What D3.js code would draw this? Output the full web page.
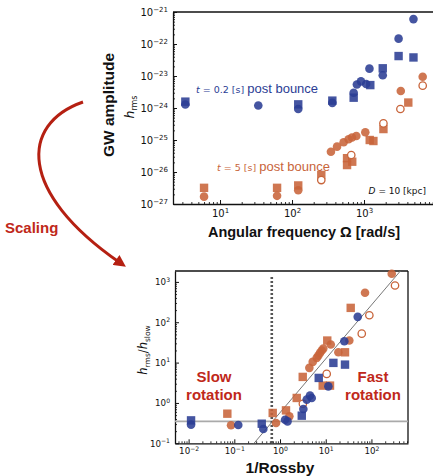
<!DOCTYPE html>
<html><head><meta charset="utf-8">
<script src="https://cdn.jsdelivr.net/npm/d3@7"></script>
<style>body{margin:0;background:#fff} svg{display:block}</style>
</head><body><svg id="c" width="433" height="476"></svg>
<script>
// ---------- Top panel data: angular frequency [rad/s] vs h_rms ----------
const topBlueCircles = [[3.3,1.28e-24],[34,1.2e-24],[122,9.3e-25],[363,1.45e-24],[718,3.0e-24],[796,5.4e-24],[907,6.8e-24],[1071,5.6e-24],[1189,1.7e-23],[1820,1.05e-23],[3020,1.47e-22],[4860,6e-22]];
const topBlueSquares = [[3.3,1.58e-24],[122,1.3e-24],[363,1.7e-24],[718,2.1e-24],[1222,5.2e-24],[1820,1.74e-23],[3020,4.2e-23],[4860,3.8e-23]];
const topOrangeCircles = [[6.0,1.7e-27],[62,1.8e-27],[122,2.7e-27],[347,4.3e-26],[422,6.2e-26],[521,8.5e-26],[611,1.05e-25],[681,1.2e-25],[782,1.33e-25],[1042,1.74e-25],[3240,3.4e-24],[6530,9.5e-24]];
const topOrangeSquares = [[6.0,3.2e-27],[62,3.2e-27],[122,3.8e-27],[255,8.1e-27],[581,2.7e-26],[581,1.65e-26],[686,2.1e-26],[1200,1e-25],[1350,9.3e-26],[1860,2.2e-25],[4120,1.48e-24]];
const topOrangeOpen = [[255,5.6e-27],[665,3.4e-26],[1860,3.3e-25],[3200,9.3e-25],[6530,5e-24]];
const topXTicks = [10,100,1000];
const topYTicks = [1e-27,1e-26,1e-25,1e-24,1e-23,1e-22,1e-21];

// ---------- Bottom panel data: 1/Rossby vs h_rms/h_slow ----------
const botBlueCircles = [[50.1,136],[25.5,33.8],[11.4,2.58],[4.53,1.52],[4.94,1.33],[3.84,1.21],[3.24,0.71],[1.29,0.385],[1.46,0.349],[0.431,0.226],[0.122,0.284],[0.0113,0.29]];
const botBlueSquares = [[14.7,9.84],[26.4,8.91],[7.03,4.17],[2.99,0.484],[0.398,0.306],[0.0113,0.37]];
const botOrangeCircles = [[278,1585],[72.4,537],[32.8,35.2],[18.9,18.0],[12.9,28.0],[8.85,22.2],[8.17,19.9],[7.5,17.4],[6.89,14.9],[6.35,13.1],[5.19,10.4],[4.38,7.4],[1.6,0.465],[0.817,0.319],[0.0847,0.279]];
const botOrangeSquares = [[35.2,227],[10.8,35.2],[26.4,18.0],[3.14,4.42],[8.59,2.69],[12.4,2.69],[2.32,1.33],[1.35,0.655],[0.692,0.565],[0.0703,0.542]];
const botOrangeOpen = [[328,815],[90,149],[61.4,52.1],[10.5,5.25],[3.16,0.955]];
const botXTicks = [0.01,0.1,1,10,100];
const botYTicks = [0.1,1,10,100,1000];
const slowLevel = 0.35;          // horizontal reference
const rossbyCrit = 0.66;         // dotted vertical
const fitSlope = 4/3, fitLogIntercept = -0.24;  // diagonal scaling line

const BLUE = "#2b3d94", ORANGE = "#c8643a", RED = "#c0281a";
const svg = d3.select("#c");
const tickFont = "DejaVu Sans", labFont = "Liberation Sans";

function minorTicks(dom){
  const lo = Math.floor(Math.log10(dom[0])), hi = Math.ceil(Math.log10(dom[1]));
  const out = [];
  for(let e=lo;e<=hi;e++) for(let m=2;m<=9;m++){const v=m*10**e; if(v>=dom[0]&&v<=dom[1]) out.push(v);}
  return out;
}
function supLabel(sel, d, fs){
  const e = Math.round(Math.log10(d));
  sel.text(null);
  sel.append("tspan").text("10");
  sel.append("tspan").attr("dy", -fs*0.42).attr("font-size", fs*0.7).text(e<0 ? "\u2212"+(-e) : String(e));
}

function drawPanel(cfg){
  const g = svg.append("g");
  const x = cfg.x, y = cfg.y;
  const [x0,x1] = x.range(), [y0,y1] = y.range();
  // minor ticks (inward)
  g.append("g").attr("transform",`translate(0,${y0})`)
    .call(d3.axisBottom(x).tickValues(minorTicks(x.domain())).tickSizeInner(-2).tickSizeOuter(0).tickFormat(""))
    .call(s=>s.select(".domain").remove()).selectAll("line").attr("stroke","#000").attr("stroke-width",0.8);
  g.append("g").attr("transform",`translate(${x0},0)`)
    .call(d3.axisLeft(y).tickValues(minorTicks(y.domain())).tickSizeInner(-2).tickSizeOuter(0).tickFormat(""))
    .call(s=>s.select(".domain").remove()).selectAll("line").attr("stroke","#000").attr("stroke-width",0.8);
  // major ticks
  const xa = g.append("g").attr("transform",`translate(0,${y0})`)
    .call(d3.axisBottom(x).tickValues(cfg.xTicks).tickSizeInner(-4).tickSizeOuter(0).tickPadding(cfg.xPad));
  xa.selectAll(".tick text").attr("font-family",tickFont).attr("font-size",cfg.xfs).attr("fill","#111")
    .each(function(d){supLabel(d3.select(this),d,cfg.xfs);});
  const ya = g.append("g").attr("transform",`translate(${x0},0)`)
    .call(d3.axisLeft(y).tickValues(cfg.yTicks).tickSizeInner(-4).tickSizeOuter(0).tickPadding(cfg.yPad));
  ya.selectAll(".tick text").attr("font-family",tickFont).attr("font-size",cfg.yfs).attr("fill","#111")
    .each(function(d){supLabel(d3.select(this),d,cfg.yfs);});
  [xa,ya].forEach(a=>{a.select(".domain").attr("stroke","#111").attr("stroke-width",1.3); a.selectAll(".tick line").attr("stroke","#111");});
  // top spine (and right if visible)
  g.append("line").attr("x1",x0).attr("x2",x1).attr("y1",y1).attr("y2",y1).attr("stroke","#111").attr("stroke-width",1.3);
  if(cfg.rightSpine) g.append("line").attr("x1",x1).attr("x2",x1).attr("y1",y1).attr("y2",y0).attr("stroke","#111").attr("stroke-width",1.3);
  return g;
}
function drawPoints(g, x, y, data, shape, color){
  const s = 8.4, r = 4.3;
  if(shape==="square"){
    g.selectAll(null).data(data).join("rect")
      .attr("x",d=>x(d[0])-s/2).attr("y",d=>y(d[1])-s/2).attr("width",s).attr("height",s)
      .attr("fill",color).attr("fill-opacity",0.88);
  } else if(shape==="circle"){
    g.selectAll(null).data(data).join("circle")
      .attr("cx",d=>x(d[0])).attr("cy",d=>y(d[1])).attr("r",r)
      .attr("fill",color).attr("fill-opacity",0.88);
  } else {
    g.selectAll(null).data(data).join("circle")
      .attr("cx",d=>x(d[0])).attr("cy",d=>y(d[1])).attr("r",3.7)
      .attr("fill","#fff").attr("stroke",color).attr("stroke-width",1.3);
  }
}

// ---------------- Top panel ----------------
const xT = d3.scaleLog().domain([10**0.347, 10**3.958]).range([173,433]);
const yT = d3.scaleLog().domain([1e-27,1e-21]).range([204,12]);
const gT = drawPanel({x:xT,y:yT,xTicks:topXTicks,yTicks:topYTicks,xfs:10,yfs:10,xPad:6,yPad:5,rightSpine:false});
drawPoints(gT,xT,yT,topOrangeSquares,"square",ORANGE);
drawPoints(gT,xT,yT,topOrangeCircles,"circle",ORANGE);
drawPoints(gT,xT,yT,topOrangeOpen,"open",ORANGE);
drawPoints(gT,xT,yT,topBlueSquares,"square",BLUE);
drawPoints(gT,xT,yT,topBlueCircles,"circle",BLUE);

function tLabel(xp, yp, val, color){
  const t = svg.append("text").attr("x",xp).attr("y",yp).attr("fill",color);
  t.append("tspan").attr("font-family",tickFont).attr("font-style","italic").attr("font-size",9.5).text("t");
  t.append("tspan").attr("font-family",tickFont).attr("font-size",9.5).text(` = ${val} [s] `);
  t.append("tspan").attr("font-family",labFont).attr("font-size",13).text("post bounce");
}
tLabel(196,93,"0.2",BLUE);
tLabel(217,171,"5",ORANGE);
const dl = svg.append("text").attr("x",426).attr("y",194).attr("text-anchor","end").attr("font-family",tickFont).attr("font-size",9).attr("fill","#111");
dl.append("tspan").attr("font-style","italic").text("D");
dl.append("tspan").text(" = 10 [kpc]");

svg.append("text").attr("transform","translate(113.5,105) rotate(-90)").attr("text-anchor","middle")
  .attr("font-family",labFont).attr("font-weight","bold").attr("font-size",15.5).attr("fill","#111").text("GW amplitude");
const hl = svg.append("text").attr("transform","translate(134,107) rotate(-90)").attr("text-anchor","middle")
  .attr("font-family",tickFont).attr("fill","#111");
hl.append("tspan").attr("font-style","italic").attr("font-size",12.5).text("h");
hl.append("tspan").attr("font-size",8).attr("dy",3).text("rms");
svg.append("text").attr("x",304).attr("y",237).attr("text-anchor","middle")
  .attr("font-family",labFont).attr("font-weight","bold").attr("font-size",14.5).attr("fill","#111").text("Angular frequency \u03A9 [rad/s]");

// ---------------- Bottom panel ----------------
const xB = d3.scaleLog().domain([10**-2.298, 10**2.80]).range([175,408]);
const yB = d3.scaleLog().domain([0.1, 10**3.27]).range([443.3,271]);
const gB = drawPanel({x:xB,y:yB,xTicks:botXTicks,yTicks:botYTicks,xfs:8.7,yfs:8.7,xPad:5,yPad:5,rightSpine:true});
// reference lines
gB.append("line").attr("x1",175).attr("x2",408).attr("y1",yB(slowLevel)).attr("y2",yB(slowLevel))
  .attr("stroke","#aaa").attr("stroke-width",1.6);
gB.append("line").attr("x1",xB(rossbyCrit)).attr("x2",xB(rossbyCrit)).attr("y1",yB(10**3.12)).attr("y2",443.3)
  .attr("stroke","#555").attr("stroke-width",2.6).attr("stroke-dasharray","2,2");
const fit = v => 10**(fitLogIntercept + fitSlope*Math.log10(v));
const fx0 = 10**((-1 - fitLogIntercept)/fitSlope), fx1 = 10**((3.27 - fitLogIntercept)/fitSlope);
gB.append("line").attr("x1",xB(fx0)).attr("y1",yB(fit(fx0))).attr("x2",xB(fx1)).attr("y2",yB(fit(fx1)))
  .attr("stroke","#777").attr("stroke-width",1);
drawPoints(gB,xB,yB,botOrangeSquares,"square",ORANGE);
drawPoints(gB,xB,yB,botOrangeCircles,"circle",ORANGE);
drawPoints(gB,xB,yB,botOrangeOpen,"open",ORANGE);
drawPoints(gB,xB,yB,botBlueSquares,"square",BLUE);
drawPoints(gB,xB,yB,botBlueCircles,"circle",BLUE);

function redText(xp, yp, s){
  svg.append("text").attr("x",xp).attr("y",yp).attr("text-anchor","middle")
    .attr("font-family",labFont).attr("font-weight","bold").attr("font-size",15).attr("fill",RED).text(s);
}
redText(214,382,"Slow"); redText(214,400,"rotation");
redText(373,382,"Fast"); redText(373,400,"rotation");

const rl = svg.append("text").attr("transform","translate(147,350) rotate(-90)").attr("text-anchor","middle")
  .attr("font-family",tickFont).attr("fill","#111");
rl.append("tspan").attr("font-style","italic").attr("font-size",11.5).text("h");
rl.append("tspan").attr("font-size",7.5).attr("dy",3).text("rms");
rl.append("tspan").attr("font-size",11.5).attr("dy",-3).text("/");
rl.append("tspan").attr("font-style","italic").attr("font-size",11.5).text("h");
rl.append("tspan").attr("font-size",7.5).attr("dy",3).text("slow");
svg.append("text").attr("x",280).attr("y",473).attr("text-anchor","middle")
  .attr("font-family",labFont).attr("font-weight","bold").attr("font-size",15.5).attr("fill","#111").text("1/Rossby");

// ---------------- Scaling arrow ----------------
const defs = svg.append("defs");
defs.append("marker").attr("id","ah").attr("viewBox","0 0 10 10").attr("refX",3).attr("refY",5)
  .attr("markerWidth",4.2).attr("markerHeight",4).attr("orient","auto").attr("markerUnits","strokeWidth")
  .append("path").attr("d","M0,0 L10,5 L0,10 z").attr("fill","#b52012");
svg.append("path").attr("d","M83,102 C20,124 18,192 119,262").attr("fill","none")
  .attr("stroke","#b52012").attr("stroke-width",3).attr("marker-end","url(#ah)");
svg.append("text").attr("x",5).attr("y",233).attr("font-family",labFont).attr("font-weight","bold")
  .attr("font-size",15).attr("fill",RED).text("Scaling");
</script></body></html>
